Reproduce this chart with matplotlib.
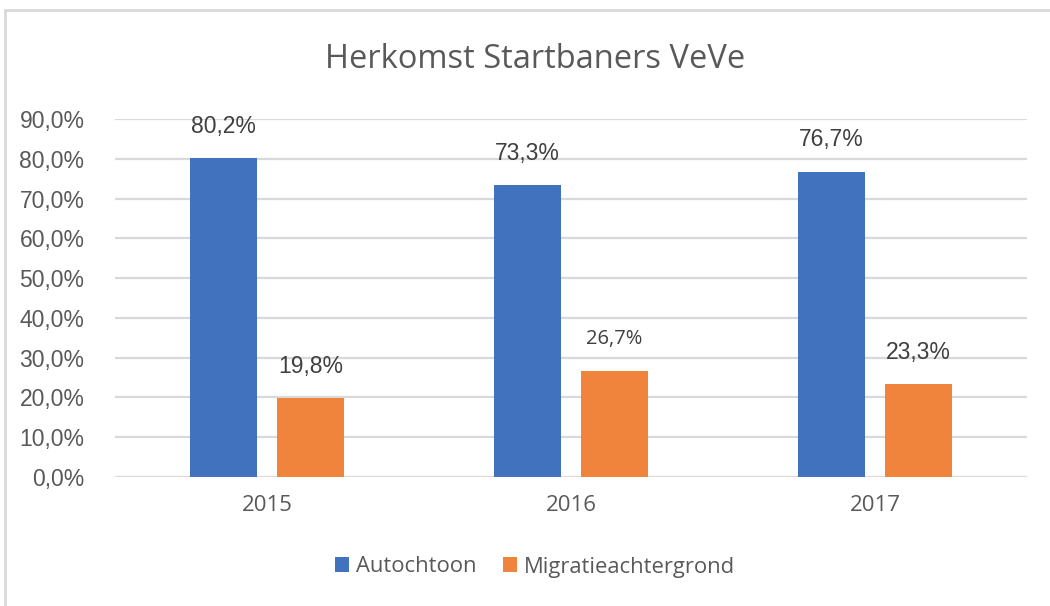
import matplotlib.pyplot as plt
import numpy as np
from matplotlib.patches import Rectangle

# data
years = ['2015', '2016', '2017']
autochtoon = [80.2, 73.3, 76.7]
migratie = [19.8, 26.7, 23.3]
series_names = ['Autochtoon', 'Migratieachtergrond']
y_ticks = [0, 10, 20, 30, 40, 50, 60, 70, 80, 90]

blue = '#4172bd'
orange = '#f0843c'
grey_text = '#595959'
grid_col = '#d9d9d9'

fig = plt.figure(figsize=(10.5, 6.06), dpi=100)
ax = fig.add_axes([115 / 1050, (606 - 477) / 606, 912 / 1050, 358 / 606])

# outer chart frame
fig.patches.append(Rectangle((5 / 1050, -0.05), 1.1, (606 - 10) / 606 + 0.05,
                             transform=fig.transFigure, fill=False,
                             edgecolor=grid_col, linewidth=2))

x = np.arange(len(years))
w = 0.22
off = 0.143
b1 = ax.bar(x - off, autochtoon, w, color=blue, label=series_names[0], zorder=3)
b2 = ax.bar(x + off, migratie, w, color=orange, label=series_names[1], zorder=3)

ax.set_xlim(-0.5, 2.5)
ax.set_ylim(0, 90)
ax.set_yticks(y_ticks)
ax.set_yticklabels([f'{v:.1f}%'.replace('.', ',') for v in y_ticks],
                   family='Liberation Sans', fontsize=16.5, color=grey_text)
ax.set_xticks(x)
ax.set_xticklabels(years, family='Open Sans', fontsize=16, color=grey_text)
ax.tick_params(length=0)
ax.tick_params(axis='y', pad=22)
ax.tick_params(axis='x', pad=13)
ax.grid(axis='y', color=grid_col, linewidth=1.6, zorder=0)
for s in ax.spines.values():
    s.set_visible(False)

# data labels
for bars, vals in [(b1, autochtoon), (b2, migratie)]:
    for bar, v in zip(bars, vals):
        txt = f'{v:.1f}%'.replace('.', ',')
        fam = 'Open Sans' if txt == '26,7%' else 'Liberation Sans'
        fs = 14.5 if txt == '26,7%' else 16.5
        ax.annotate(txt, (bar.get_x() + bar.get_width() / 2, v),
                    xytext=(0, 23), textcoords='offset points',
                    ha='center', va='center', family=fam, fontsize=fs,
                    color='#404040', annotation_clip=False)

fig.text(535 / 1050, 1 - 60 / 606, 'Herkomst Startbaners VeVe', family='Open Sans',
         fontsize=23.5, color=grey_text, ha='center', va='center')

leg = fig.legend(handles=[b1, b2], labels=series_names, loc='center',
                 bbox_to_anchor=(535 / 1050, 1 - 567 / 606), ncol=2, frameon=False,
                 prop={'family': 'Open Sans', 'size': 15.8}, handlelength=0.65,
                 handleheight=0.65, handletextpad=0.3, columnspacing=1.2)
for t in leg.get_texts():
    t.set_color(grey_text)

fig.savefig('out.png', dpi=100)
